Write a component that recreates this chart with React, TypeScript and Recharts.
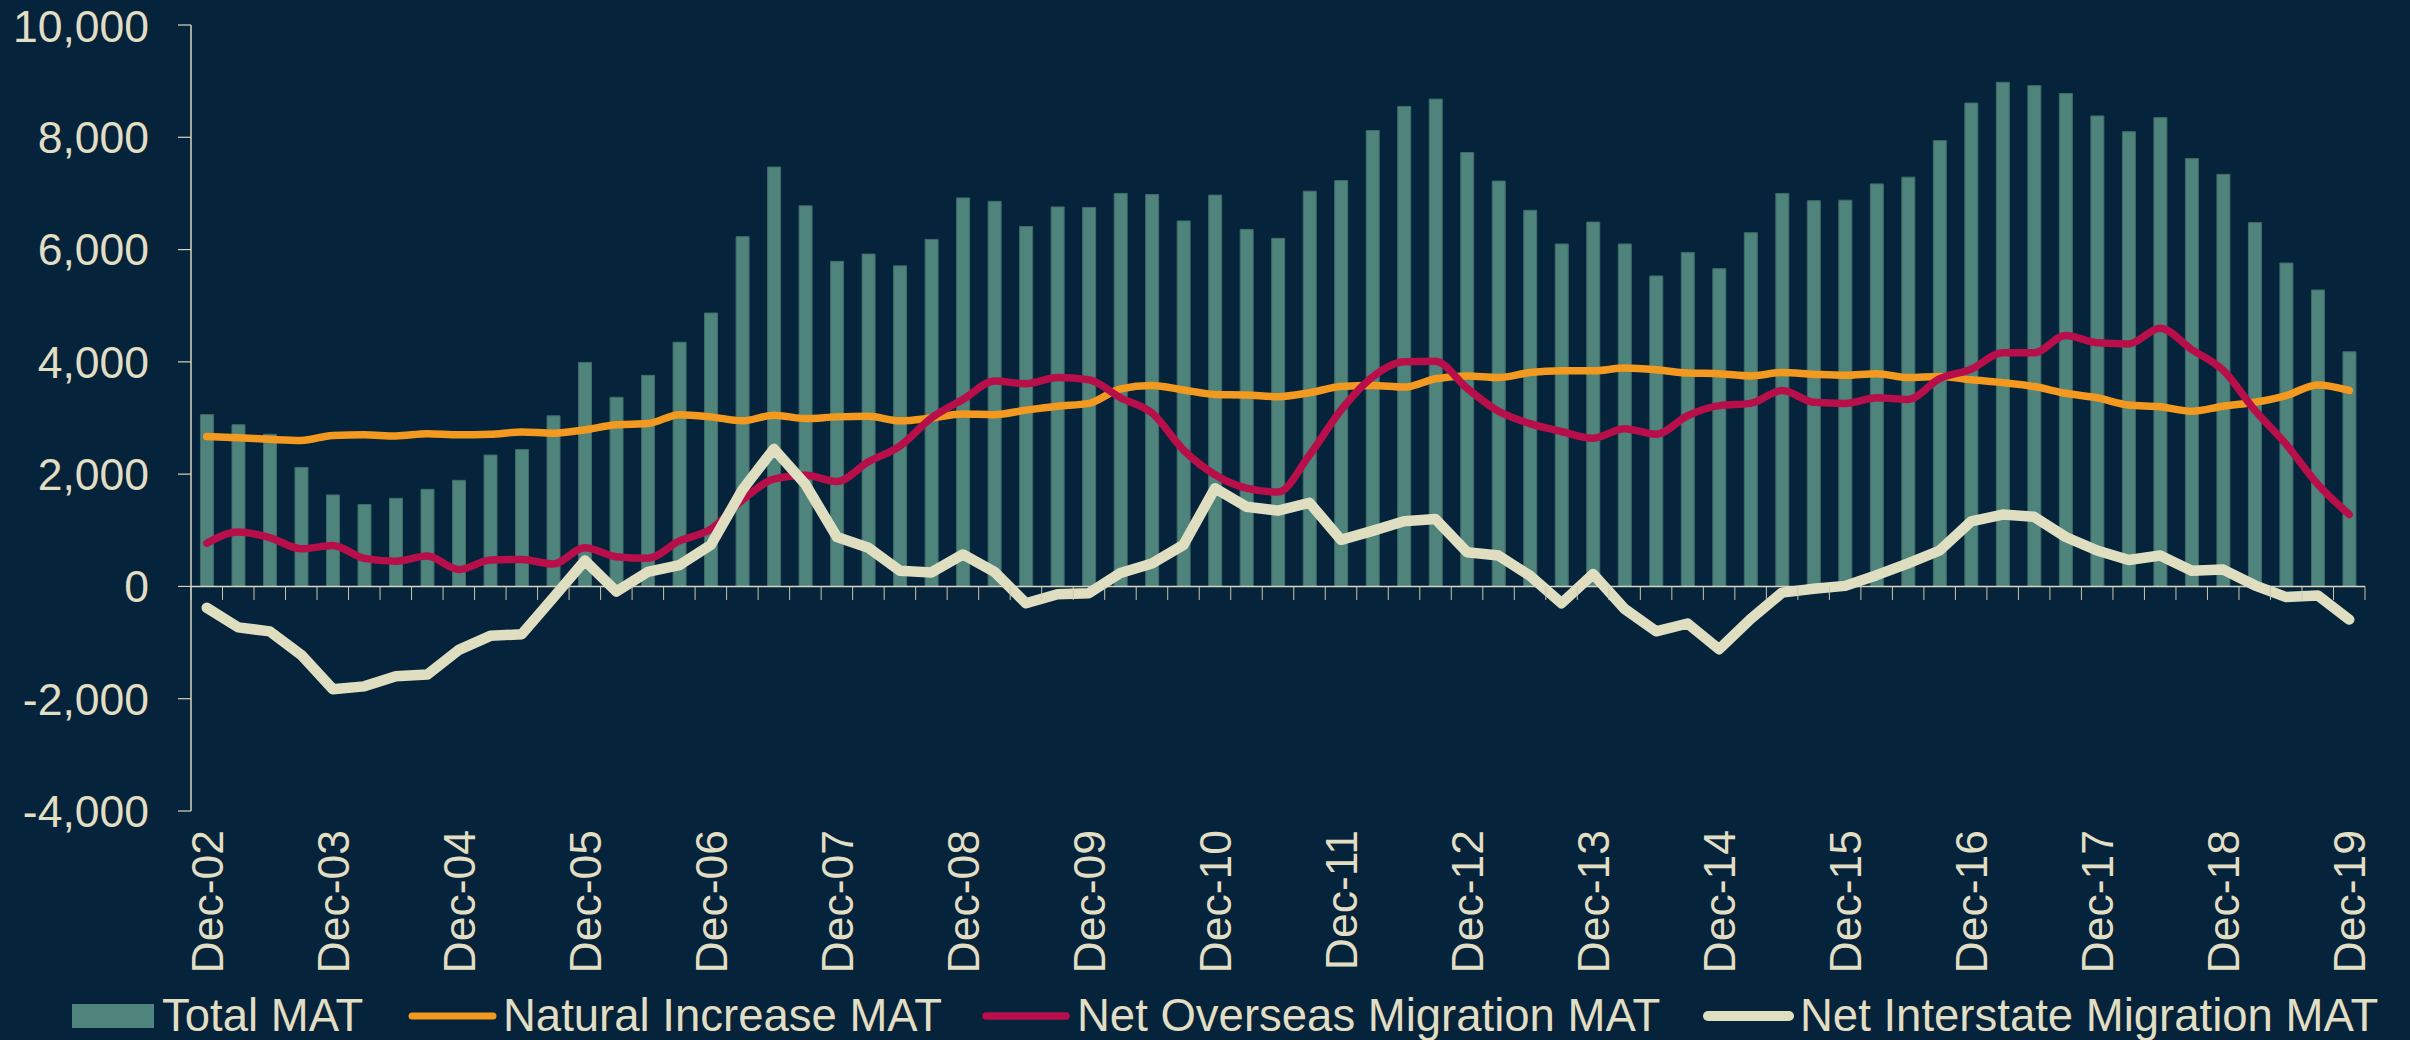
import { ComposedChart, Bar, Line, XAxis, YAxis, ReferenceLine } from 'recharts';

// Quarterly labels, Dec-02 .. Dec-19
const quarterNames = ['Mar', 'Jun', 'Sep', 'Dec'];
const years = ['03', '04', '05', '06', '07', '08', '09', '10', '11', '12', '13', '14', '15', '16', '17', '18', '19'];
const categories = ['Dec-02', ...years.flatMap((y) => quarterNames.map((q) => `${q}-${y}`))];

const yTicks = [-4000, -2000, 0, 2000, 4000, 6000, 8000, 10000];

const totalMat = [
  3060, 2880, 2710, 2120, 1630, 1460, 1570, 1730, 1890, 2340, 2440, 3040,
  3990, 3370, 3760, 4350, 4870, 6230, 7470, 6780, 5790, 5920, 5710, 6180,
  6920, 6860, 6410, 6760, 6750, 7000, 6980, 6510, 6970, 6360, 6200, 7040,
  7230, 8120, 8550, 8680, 7730, 7220, 6700, 6100, 6490, 6100, 5530, 5950,
  5660, 6300, 7000, 6870, 6880, 7170, 7290, 7940, 8610, 8980, 8920, 8780,
  8380, 8100, 8350, 7620, 7340, 6480, 5760, 5280, 4180,
];

const naturalIncrease = [
  2670, 2650, 2620, 2600, 2690, 2700, 2680, 2720, 2700, 2710, 2750, 2730,
  2790, 2880, 2900, 3060, 3020, 2950, 3050, 2990, 3020, 3030, 2950, 3000,
  3070, 3060, 3140, 3210, 3260, 3520, 3580, 3500, 3420, 3410, 3380, 3450,
  3560, 3580, 3550, 3700, 3750, 3720, 3810, 3840, 3840, 3890, 3860, 3800,
  3790, 3750, 3810, 3780, 3760, 3790, 3720, 3740, 3680, 3630, 3560, 3440,
  3360, 3230, 3200, 3120, 3210, 3280, 3400, 3590, 3490,
];

const netOverseas = [
  770, 970, 870, 670, 730, 500, 450, 540, 300, 470, 480, 400,
  690, 530, 500, 810, 1020, 1540, 1910, 1980, 1870, 2220, 2500, 3000,
  3330, 3660, 3610, 3720, 3680, 3360, 3090, 2430, 1990, 1750, 1680, 2340,
  3140, 3730, 4000, 4010, 3530, 3120, 2900, 2760, 2640, 2810, 2710, 3040,
  3220, 3260, 3490, 3280, 3260, 3360, 3330, 3700, 3870, 4160, 4160, 4470,
  4340, 4320, 4600, 4220, 3850, 3140, 2530, 1820, 1280,
];

const netInterstate = [
  -380, -730, -800, -1220, -1830, -1780, -1600, -1570, -1130, -880, -850, -200,
  460, -90, 260, 380, 740, 1720, 2450, 1820, 880, 690, 280, 250,
  570, 260, -300, -140, -120, 240, 410, 740, 1750, 1420, 1350, 1490,
  830, 990, 1160, 1200, 610, 550, 190, -300, 220, -400, -800, -660,
  -1120, -580, -110, -40, 10, 200, 410, 640, 1160, 1280, 1240, 880,
  640, 470, 550, 280, 300, 20, -190, -160, -590,
];

const data = categories.map((label, i) => ({
  label,
  total: totalMat[i],
  natural: naturalIncrease[i],
  overseas: netOverseas[i],
  interstate: netInterstate[i],
}));

const BG = '#05233a';
const TEXT = '#e2dec4';
const AXIS = '#d9d5c0';
const BAR = '#4e847b';
const ORANGE = '#f3991f';
const CRIMSON = '#b80f4b';
const CREAM = '#e0dec1';
const FONT = '"Liberation Sans", Arial, Helvetica, sans-serif';

const W = 2410;
const H = 1040;
const MARGIN = { top: 25, right: 45, left: 1, bottom: 69 };
const Y_AXIS_W = 190;
const X_AXIS_H = 160;
const PLOT_LEFT = MARGIN.left + Y_AXIS_W;
const PLOT_RIGHT = W - MARGIN.right;
const PLOT_TOP = MARGIN.top;
const PLOT_BOTTOM = H - MARGIN.bottom - X_AXIS_H;
const BAND = (PLOT_RIGHT - PLOT_LEFT) / categories.length;
const ZERO_Y = PLOT_TOP + (PLOT_BOTTOM - PLOT_TOP) * (10000 / 14000);

// tick marks sit on the zero line between bars; only Dec labels are printed
function DateTick(props: any) {
  const { x, payload } = props;
  const label: string = payload.value;
  const isLast = label === categories[categories.length - 1];
  return (
    <g>
      <line x1={x - BAND / 2} x2={x - BAND / 2} y1={ZERO_Y} y2={ZERO_Y + 13.5} stroke="#c8c5b0" strokeWidth={1} />
      {isLast && (
        <line x1={x + BAND / 2} x2={x + BAND / 2} y1={ZERO_Y} y2={ZERO_Y + 13.5} stroke="#c8c5b0" strokeWidth={1} />
      )}
      {label.startsWith('Dec') && (
        <text
          transform={`translate(${x + 16},${PLOT_BOTTOM + 19}) rotate(-90)`}
          textAnchor="end"
          fill={TEXT}
          fontSize={44.5}
          fontFamily={FONT}
        >
          {label}
        </text>
      )}
    </g>
  );
}

function ChartLegend() {
  return (
    <svg width={W} height={H} style={{ position: 'absolute', left: 0, top: 0, pointerEvents: 'none' }}>
      <g fontFamily={FONT} fontSize={45.5} fill={TEXT}>
        <rect x={72} y={1004} width={82} height={24} fill={BAR} />
        <text x={162} y={1030.5}>Total MAT</text>
        <line x1={412} x2={493} y1={1016} y2={1016} stroke={ORANGE} strokeWidth={7} strokeLinecap="round" />
        <text x={503} y={1030.5}>Natural Increase MAT</text>
        <line x1={986} x2={1066} y1={1016} y2={1016} stroke={CRIMSON} strokeWidth={7.5} strokeLinecap="round" />
        <text x={1077} y={1030.5}>Net Overseas Migration MAT</text>
        <line x1={1708} x2={1789} y1={1016} y2={1016} stroke={CREAM} strokeWidth={10} strokeLinecap="round" />
        <text x={1800} y={1030.5}>Net Interstate Migration MAT</text>
      </g>
    </svg>
  );
}

export default function App() {
  return (
    <div style={{ position: 'absolute', left: 0, top: 0, width: W, height: H, background: BG, overflow: 'hidden' }}>
      <ComposedChart width={W} height={H} data={data} margin={MARGIN} barCategoryGap="30%">
        <XAxis
          dataKey="label"
          interval={0}
          height={X_AXIS_H}
          axisLine={false}
          tickLine={false}
          tick={(p: any) => <DateTick {...p} />}
        />
        <YAxis
          width={Y_AXIS_W}
          domain={[-4000, 10000]}
          ticks={yTicks}
          allowDataOverflow
          tickSize={13}
          tickMargin={29}
          axisLine={{ stroke: AXIS, strokeWidth: 1.5 }}
          tickLine={{ stroke: AXIS, strokeWidth: 1.2 }}
          tick={{ fill: TEXT, fontSize: 44.5, fontFamily: FONT }}
          tickFormatter={(v: number) => v.toLocaleString('en-US')}
        />
        <Bar dataKey="total" name="Total MAT" fill={BAR} stroke="#3f6d6a" strokeWidth={1} isAnimationActive={false} />
        <ReferenceLine y={0} stroke={AXIS} strokeWidth={1.5} />
        <Line
          type="monotone"
          dataKey="natural"
          name="Natural Increase MAT"
          stroke={ORANGE}
          strokeWidth={7.5}
          strokeLinecap="round"
          dot={false}
          activeDot={false}
          isAnimationActive={false}
        />
        <Line
          type="monotone"
          dataKey="overseas"
          name="Net Overseas Migration MAT"
          stroke={CRIMSON}
          strokeWidth={7.5}
          strokeLinecap="round"
          dot={false}
          activeDot={false}
          isAnimationActive={false}
        />
        <Line
          type="linear"
          dataKey="interstate"
          name="Net Interstate Migration MAT"
          stroke={CREAM}
          strokeWidth={10.5}
          strokeLinecap="round"
          strokeLinejoin="round"
          dot={false}
          activeDot={false}
          isAnimationActive={false}
        />
      </ComposedChart>
      <ChartLegend />
    </div>
  );
}
